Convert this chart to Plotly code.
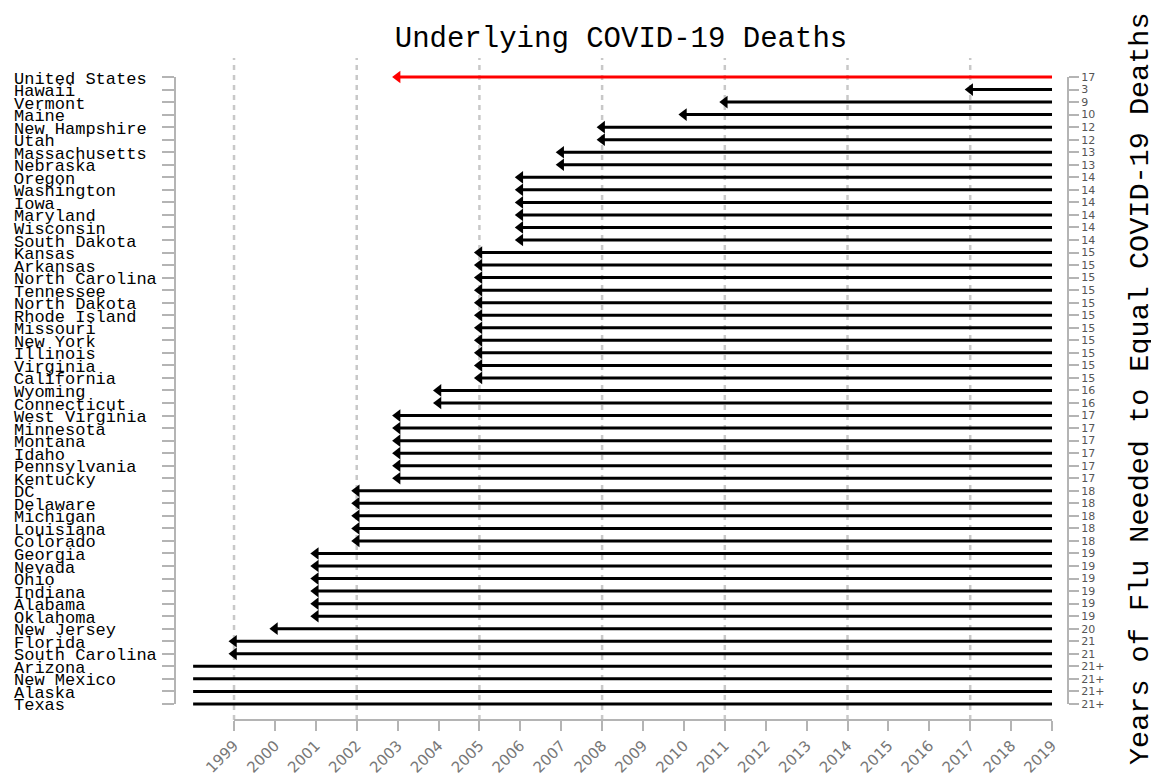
import plotly.graph_objects as go

# rows top to bottom
states = [
    "United States", "Hawaii", "Vermont", "Maine", "New Hampshire", "Utah",
    "Massachusetts", "Nebraska", "Oregon", "Washington", "Iowa", "Maryland",
    "Wisconsin", "South Dakota", "Kansas", "Arkansas", "North Carolina",
    "Tennessee", "North Dakota", "Rhode Island", "Missouri", "New York",
    "Illinois", "Virginia", "California", "Wyoming", "Connecticut",
    "West Virginia", "Minnesota", "Montana", "Idaho", "Pennsylvania",
    "Kentucky", "DC", "Delaware", "Michigan", "Louisiana", "Colorado",
    "Georgia", "Nevada", "Ohio", "Indiana", "Alabama", "Oklahoma",
    "New Jersey", "Florida", "South Carolina", "Arizona", "New Mexico",
    "Alaska", "Texas",
]
flu_years = [
    "17", "3", "9", "10", "12", "12", "13", "13", "14", "14", "14", "14",
    "14", "14", "15", "15", "15", "15", "15", "15", "15", "15", "15", "15",
    "15", "16", "16", "17", "17", "17", "17", "17", "17", "18", "18", "18",
    "18", "18", "19", "19", "19", "19", "19", "19", "20", "21", "21",
    "21+", "21+", "21+", "21+",
]
year_ticks = list(range(1999, 2020))
grid_years = [1999, 2002, 2005, 2008, 2011, 2014, 2017]
end_year = 2019
open_start = 1998  # where the "21+" rows begin

MONO = "Courier New, Liberation Mono, monospace"
GRAY = "#b4b4b4"

# page body has an 8px margin, so the figure is drawn 8px smaller
W, H = 1151, 774
L, R, T, B = 167, 91, 50, 62
plot_w = W - L - R

rows = list(range(len(states)))


def start_of(v):
    return open_start if v.endswith("+") else 2020 - int(v)


bx, by, ax, ay = [], [], [], []
for i, v in enumerate(flu_years):
    if i == 0:
        continue
    s = start_of(v)
    bx += [end_year, s, None]
    by += [i, i, None]
    if not v.endswith("+"):
        ax.append(s)
        ay.append(i)

fig = go.Figure()
fig.add_trace(go.Scatter(x=bx, y=by, mode="lines",
                         line=dict(color="black", width=3), hoverinfo="skip"))
fig.add_trace(go.Scatter(x=ax, y=ay, mode="markers",
                         marker=dict(symbol="triangle-left", size=11, color="black"),
                         hoverinfo="skip"))
us_start = start_of(flu_years[0])
fig.add_trace(go.Scatter(x=[end_year, us_start], y=[0, 0], mode="lines",
                         line=dict(color="red", width=3), hoverinfo="skip"))
fig.add_trace(go.Scatter(x=[us_start], y=[0], mode="markers",
                         marker=dict(symbol="triangle-left", size=11, color="red"),
                         hoverinfo="skip"))
# invisible trace so the right-hand axis renders
fig.add_trace(go.Scatter(x=[end_year], y=[0], yaxis="y2", mode="markers",
                         marker=dict(opacity=0), hoverinfo="skip"))

yrange = [len(states) - 1 + 1.28, -1.515]

shapes = []
for g in grid_years:
    shapes.append(dict(type="line", xref="x", yref="paper", x0=g, x1=g, y0=0, y1=1,
                       line=dict(color="#c8c8c8", width=2.5, dash="5px,5px"),
                       layer="below"))
# axis lines that span only the data extent
shapes.append(dict(type="line", xref="x", yref="paper", x0=year_ticks[0],
                   x1=year_ticks[-1], y0=0, y1=0, line=dict(color=GRAY, width=2)))
shapes.append(dict(type="line", xref="paper", yref="y", x0=0, x1=0,
                   y0=0, y1=len(states) - 1, line=dict(color=GRAY, width=2)))
shapes.append(dict(type="line", xref="paper", yref="y", x0=1, x1=1,
                   y0=0, y1=len(states) - 1, line=dict(color=GRAY, width=2)))

annotations = []
label_x = (4 - L) / plot_w
for i, name in enumerate(states):
    annotations.append(dict(text=name, xref="paper", yref="y", x=label_x, y=i,
                            xanchor="left", yanchor="middle", yshift=-2,
                            showarrow=False, font=dict(family=MONO, size=17,
                                                       color="black")))
annotations.append(dict(text="Years of Flu Needed to Equal COVID-19 Deaths",
                        xref="paper", yref="paper", x=(1132 - L) / plot_w, y=0.5,
                        xanchor="center", yanchor="middle",
                        textangle=-90, showarrow=False,
                        font=dict(family=MONO, size=28.5, color="black")))

fig.update_layout(
    width=W, height=H,
    margin=dict(l=L, r=R, t=T, b=B, autoexpand=False),
    paper_bgcolor="white", plot_bgcolor="white",
    showlegend=False,
    title=dict(text="Underlying COVID-19 Deaths", x=613 / W, xanchor="center",
               y=1 - 29 / H, yanchor="middle",
               font=dict(family=MONO, size=29, color="black")),
    xaxis=dict(range=[1997.557, 2019.391], tickvals=year_ticks,
               ticktext=[str(y) for y in year_ticks], tickangle=-45,
               ticks="outside", ticklen=10, tickwidth=2, tickcolor=GRAY,
               tickfont=dict(family="DejaVu Sans, Verdana, sans-serif", size=15,
                             color="#777"),
               automargin=False,
               showgrid=False, zeroline=False, showline=False),
    yaxis=dict(range=yrange, tickvals=rows, showticklabels=False,
               ticks="outside", ticklen=12, tickwidth=2, tickcolor=GRAY,
               automargin=False,
               showgrid=False, zeroline=False, showline=False),
    yaxis2=dict(range=yrange, overlaying="y", side="right", tickvals=rows,
                ticktext=flu_years, ticks="outside", ticklen=10, tickwidth=2,
                tickcolor=GRAY, automargin=False,
                tickfont=dict(family="DejaVu Sans, Verdana, sans-serif", size=11,
                              color="#555"),
                showgrid=False, zeroline=False, showline=False),
    shapes=shapes,
    annotations=annotations,
)

fig.write_html("out.html")
